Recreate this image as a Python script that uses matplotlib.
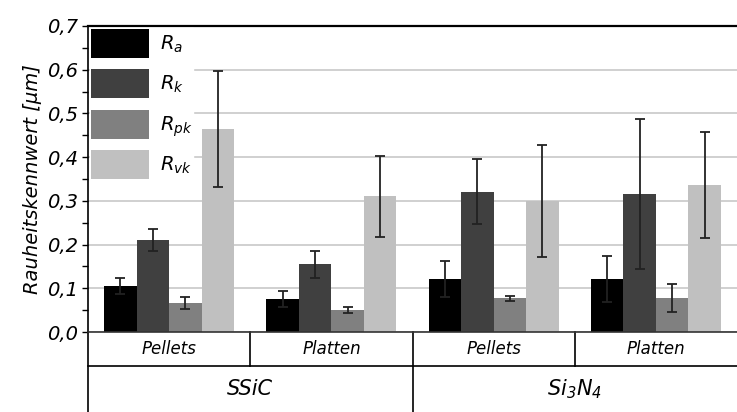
import numpy as np
import matplotlib
matplotlib.use("Agg")
import matplotlib.pyplot as plt
from matplotlib.ticker import MultipleLocator, FuncFormatter

# data
materials = ["SSiC", "Si$_3$N$_4$"]
forms = ["Pellets", "Platten", "Pellets", "Platten"]
series = ["$R_a$", "$R_k$", "$R_{pk}$", "$R_{vk}$"]
colors = ["#000000", "#404040", "#808080", "#c0c0c0"]

r_a = [0.105, 0.075, 0.122, 0.121]
r_k = [0.210, 0.155, 0.321, 0.315]
r_pk = [0.066, 0.050, 0.077, 0.078]
r_vk = [0.465, 0.310, 0.299, 0.337]

err_a = [0.018, 0.018, 0.041, 0.052]
err_k = [0.025, 0.031, 0.074, 0.172]
err_pk = [0.013, 0.007, 0.006, 0.032]
err_vk = [0.133, 0.093, 0.128, 0.121]

values = [r_a, r_k, r_pk, r_vk]
errors = [err_a, err_k, err_pk, err_vk]

plt.rcParams['font.family'] = ['DejaVu Sans']
plt.rcParams['font.style'] = 'italic'
plt.rcParams['mathtext.fontset'] = 'dejavusans'

fig = plt.figure(figsize=(7.37, 4.12), dpi=100)
ax = fig.add_axes([88/737, 80/412, 649/737, 306/412])

x = np.arange(len(forms))
w = 0.2
for i, (vals, errs) in enumerate(zip(values, errors)):
    ax.bar(x + (i - 1.5) * w, vals, w, color=colors[i], label=series[i],
           yerr=errs, capsize=3.5,
           error_kw=dict(ecolor="#222222", elinewidth=1.3, capthick=1.3))

ax.set_xlim(-0.5, 3.5)
ax.set_ylim(0, 0.7)
ax.yaxis.set_major_locator(MultipleLocator(0.1))
ax.yaxis.set_minor_locator(MultipleLocator(0.05))
ax.yaxis.set_major_formatter(FuncFormatter(lambda v, p: f"{v:.1f}".replace(".", ",")))
ax.tick_params(axis="y", which="both", direction="out", length=4, width=1,
               labelsize=14, pad=3)
ax.tick_params(axis="x", bottom=False, labelbottom=False)
ax.grid(axis="y", color="#c8c8c8", linewidth=1.2)
ax.set_axisbelow(True)

ax.spines["right"].set_visible(False)
ax.spines["top"].set_linewidth(1.6)
ax.spines["left"].set_linewidth(1.2)
ax.spines["bottom"].set_color("#333333")
ax.spines["bottom"].set_linewidth(1.2)

ax.set_ylabel("Rauheitskennwert [µm]", fontsize=14, style="italic", labelpad=4)

leg = ax.legend(loc="upper left", bbox_to_anchor=(0.0, 1.0), fontsize=14,
                frameon=True, framealpha=1, edgecolor="white", fancybox=False,
                handlelength=3.0, handleheight=1.9, labelspacing=0.6,
                borderaxespad=0.1, borderpad=0.05, handletextpad=0.55)

# category table below the axes
row1 = -34 / 306
row2 = -80 / 306
tr = ax.get_xaxis_transform()
line_kw = dict(color="black", linewidth=1.2, clip_on=False, transform=tr)
ax.plot([-0.5, 3.5], [row1, row1], **line_kw)
ax.plot([-0.5, -0.5], [0, row2], **line_kw)
ax.plot([1.5, 1.5], [0, row2], **line_kw)
for xv in [0.5, 2.5]:
    ax.plot([xv, xv], [0, row1], **line_kw)

for xi, f in zip(x, forms):
    ax.text(xi, row1 / 2, f, transform=tr, ha="center", va="center",
            fontsize=12, style="italic")
for gi, m in enumerate(materials):
    ax.text(gi * 2 + 0.5, (row1 + row2) / 2, m, transform=tr, ha="center",
            va="center", fontsize=15, style="italic")

fig.savefig("out.png", dpi=100)
